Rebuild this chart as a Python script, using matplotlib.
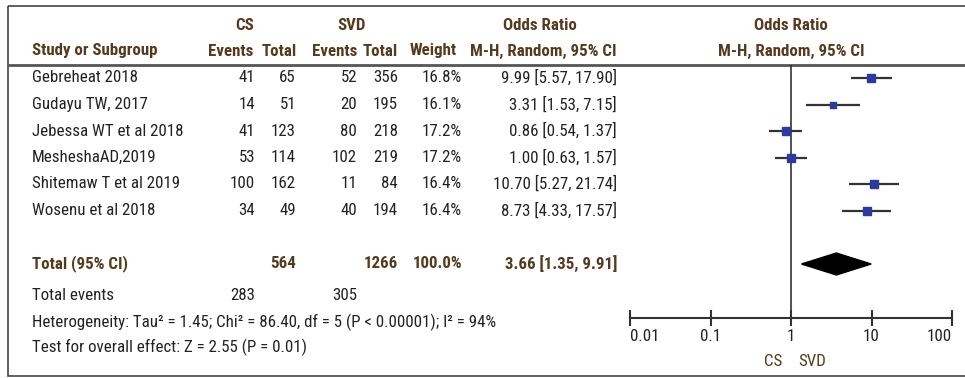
import matplotlib

matplotlib.use("Agg")
import matplotlib.pyplot as plt
import numpy as np
from matplotlib import font_manager
from matplotlib.patches import Polygon, Rectangle
from matplotlib.ticker import NullLocator

studies = [
    "Gebreheat 2018",
    "Gudayu TW, 2017",
    "Jebessa WT et al 2018",
    "MesheshaAD,2019",
    "Shitemaw T et al 2019",
    "Wosenu et al 2018",
]
cs_events = [41, 14, 41, 53, 100, 34]
cs_total = [65, 51, 123, 114, 162, 49]
svd_events = [52, 20, 80, 102, 11, 40]
svd_total = [356, 195, 218, 219, 84, 194]
weights = [16.8, 16.1, 17.2, 17.2, 16.4, 16.4]
odds = [9.99, 3.31, 0.86, 1.00, 10.70, 8.73]
ci_low = [5.57, 1.53, 0.54, 0.63, 5.27, 4.33]
ci_high = [17.90, 7.15, 1.37, 1.57, 21.74, 17.57]

total_or, total_low, total_high = 3.66, 1.35, 9.91
total_cs, total_svd, total_weight = 564, 1266, 100.0
events_cs, events_svd = 283, 305
heterogeneity = "Heterogeneity: Tau\u00b2 = 1.45; Chi\u00b2 = 86.40, df = 5 (P < 0.00001); I\u00b2 = 94%"
overall_effect = "Test for overall effect: Z = 2.55 (P = 0.01)"
ticks = [0.01, 0.1, 1, 10, 100]
tick_labels = ["0.01", "0.1", "1", "10", "100"]

names = {f.name for f in font_manager.fontManager.ttflist}
family = [n for n in ["Liberation Sans Narrow", "Roboto Condensed", "DejaVu Sans"] if n in names]
plt.rcParams["font.family"] = family

W, H = 965, 378
TXT = "#222222"
HEAD = "#553a1c"
FS = 12.2

fig = plt.figure(figsize=(W / 100, H / 100), dpi=100)
tab = fig.add_axes([0, 0, 1, 1])
tab.set_xlim(0, W)
tab.set_ylim(H, 0)
tab.axis("off")

# outer frame and header rule
tab.add_patch(Rectangle((8, 6), 970, 370, fill=False, edgecolor="#444444", lw=1.2))
tab.hlines(65, 8, W, color="#555555", lw=2)

row_y = 78 + 26.5 * np.arange(len(studies))
total_y = 264

# headers
hdr = dict(color=HEAD, fontsize=FS, fontweight="bold", va="center")
tab.text(245, 26, "CS", ha="center", **hdr)
tab.text(352, 26, "SVD", ha="center", **hdr)
tab.text(540, 26, "Odds Ratio", ha="center", **hdr)
tab.text(791, 26, "Odds Ratio", ha="center", **hdr)
tab.text(32, 51, "Study or Subgroup", ha="left", **hdr)
col_right = [255, 296, 357, 398, 462]
head_right = [253, 297, 357, 398, 457]
for x, lab in zip(head_right, ["Events", "Total", "Events", "Total", "Weight"]):
    tab.text(x, 51, lab, ha="right", **hdr)
tab.text(617, 51, "M-H, Random, 95% CI", ha="right", **hdr)
tab.text(791, 51, "M-H, Random, 95% CI", ha="center", **hdr)

# study rows
body = dict(color=TXT, fontsize=FS, va="center")
for i, y in enumerate(row_y):
    tab.text(32, y, studies[i], ha="left", **body)
    vals = [cs_events[i], cs_total[i], svd_events[i], svd_total[i], f"{weights[i]:.1f}%"]
    for x, v in zip(col_right, vals):
        tab.text(x, y, str(v), ha="right", **body)
    tab.text(617, y, f"{odds[i]:.2f} [{ci_low[i]:.2f}, {ci_high[i]:.2f}]", ha="right", **body)

# total rows
tab.text(32, total_y, "Total (95% CI)", ha="left", **hdr)
tab.text(col_right[1], total_y, str(total_cs), ha="right", **hdr)
tab.text(col_right[3], total_y, str(total_svd), ha="right", **hdr)
tab.text(col_right[4], total_y, f"{total_weight:.1f}%", ha="right", **hdr)
tab.text(617, total_y, f"{total_or:.2f} [{total_low:.2f}, {total_high:.2f}]", ha="right", **hdr)

tab.text(32, 296, "Total events", ha="left", **body)
tab.text(col_right[0], 296, str(events_cs), ha="right", **body)
tab.text(col_right[2], 296, str(events_svd), ha="right", **body)
tab.text(32, 322, heterogeneity, ha="left", **body)
tab.text(32, 347, overall_effect, ha="left", **body)

# forest panel
ax = fig.add_axes([630 / W, (H - 318) / H, 322 / W, (318 - 65) / H])
ax.set_xscale("log")
ax.set_xlim(ticks[0], ticks[-1])
ax.set_ylim(318, 65)
ax.patch.set_alpha(0)
for s in ["top", "left", "right"]:
    ax.spines[s].set_visible(False)
ax.spines["bottom"].set_color("#333333")
ax.spines["bottom"].set_linewidth(1.5)
ax.set_yticks([])
ax.set_xticks(ticks)
ax.set_xticklabels(tick_labels)
ax.xaxis.set_minor_locator(NullLocator())
ax.tick_params(axis="x", direction="inout", length=12, width=1.5, color="#333333",
               labelsize=FS, labelcolor=TXT, pad=2)
labels = ax.get_xticklabels()
labels[0].set_ha("left")
labels[-1].set_ha("right")

ax.axvline(1, color="#333333", lw=1.2)
ax.hlines(row_y, ci_low, ci_high, color="#333333", lw=1.6)
ms = 5.2 * np.sqrt(np.array(weights) / max(weights))
for x, y, m in zip(odds, row_y, ms):
    ax.plot(x, y, "s", ms=m, color="#2b3a9e")
d = 11
ax.add_patch(Polygon([(total_low, total_y), (total_or, total_y - d),
                      (total_high, total_y), (total_or, total_y + d)],
                     closed=True, facecolor="black", edgecolor="black"))

ax.annotate("CS", xy=(1, 0), xycoords=ax.get_xaxis_transform(), xytext=(-9, -43),
            textcoords="offset pixels", ha="right", va="center", color=HEAD, fontsize=FS)
ax.annotate("SVD", xy=(1, 0), xycoords=ax.get_xaxis_transform(), xytext=(7, -43),
            textcoords="offset pixels", ha="left", va="center", color=HEAD, fontsize=FS)

fig.savefig("out.png", dpi=100)
